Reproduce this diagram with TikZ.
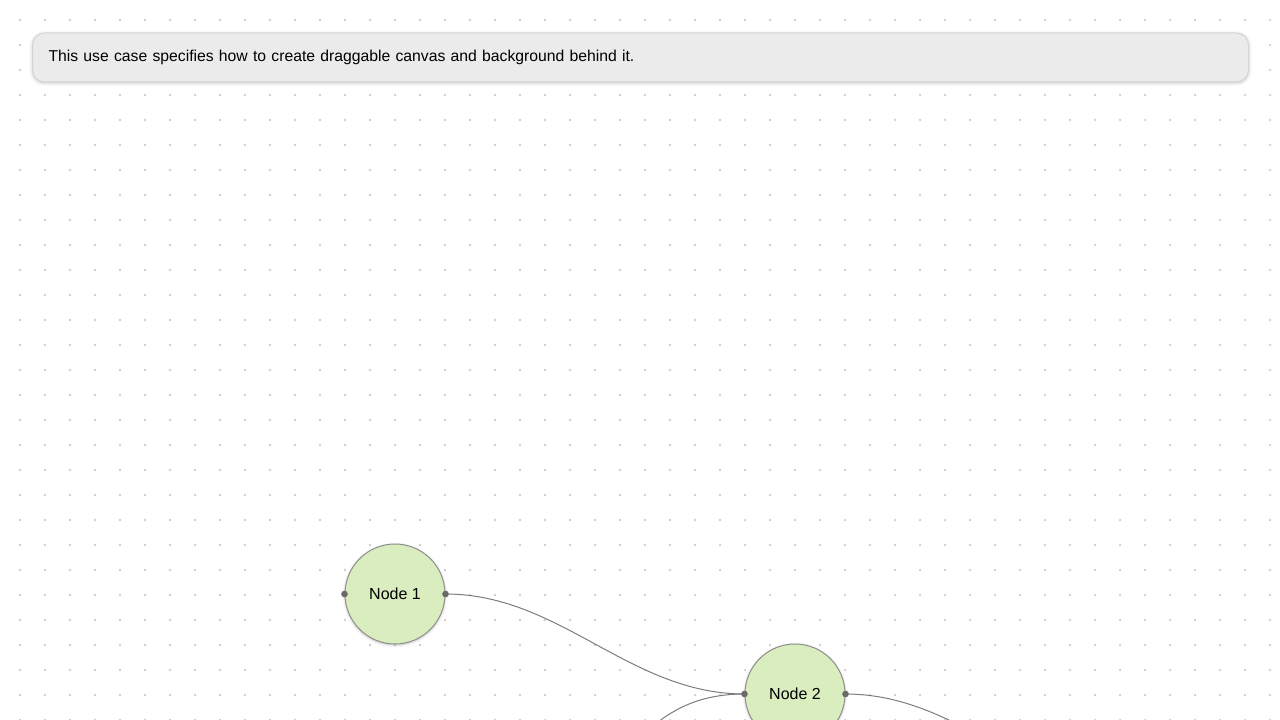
\documentclass[tikz,border=0pt]{standalone}
\usepackage{fontspec}
\setmainfont{Liberation Sans}
\usepackage{tikz}
\usepackage{xcolor}
\usetikzlibrary{positioning, shadows.blur}
\definecolor{GridDot}{HTML}{CDCDCD}
\definecolor{InfoFill}{HTML}{EBEBEB}
\definecolor{InfoLine}{HTML}{D4D4D4}
\definecolor{NodeFill}{HTML}{D9EDBE}
\definecolor{NodeLine}{HTML}{8E8E8E}
\definecolor{PortFill}{HTML}{6A6A6A}
\definecolor{EdgeLine}{HTML}{7C7C7C}

\begin{document}
\begin{tikzpicture}[x=0.75pt, y=-0.75pt,
  infobox/.style={draw=InfoLine, fill=InfoFill, rounded corners=9pt, line width=0.75pt,
    anchor=north west, minimum width=912pt, minimum height=36.75pt, inner xsep=12pt,
    text width=888pt, align=left, font=\fontsize{11.8pt}{14pt}\selectfont,
    blur shadow={shadow xshift=0pt, shadow yshift=-0.75pt, shadow blur radius=2.5pt, shadow opacity=25}},
  flownode/.style={circle, draw=NodeLine, fill=NodeFill, line width=0.75pt, minimum size=75pt,
    inner sep=0pt, font=\fontsize{12pt}{14pt}\selectfont,
    blur shadow={shadow xshift=0pt, shadow yshift=-0.75pt, shadow blur radius=2pt, shadow opacity=25}},
  port/.style={circle, fill=PortFill, inner sep=0pt, minimum size=5pt},
  connector/.style={draw=EdgeLine, line width=0.75pt}]
\useasboundingbox (0,0) rectangle (1280,720);
\clip (0,0) rectangle (1280,720);
% Dotted canvas
\foreach \i in {0,...,50} {
  \foreach \j in {0,...,28} {
    \fill[GridDot] (20+25*\i,20+25*\j) circle (0.95pt);
  }
}
% Description
\node[infobox] (info) at (32,32.5) {This use case specifies how to create draggable canvas and background behind it.};
% Off-canvas ends
\coordinate (n3e) at (520,794);
\coordinate (n4w) at (1145,794);
% Nodes
\node[flownode] (node1) at (395,594) {Node 1};
\node[flownode] (node2) at (795,694) {Node 2};
% Connectors
\draw[connector] (node1.east) .. controls +(115,0) and +(-115,0) .. (node2.west);
\draw[connector] (n3e) .. controls +(115,0) and +(-115,0) .. (node2.west);
\draw[connector] (node2.east) .. controls +(115,0) and +(-115,0) .. (n4w);
% Ports
\node[port] (p1w) at (node1.west) {};
\node[port] (p1e) at (node1.east) {};
\node[port] (p2w) at (node2.west) {};
\node[port] (p2e) at (node2.east) {};
\end{tikzpicture}
\end{document}
